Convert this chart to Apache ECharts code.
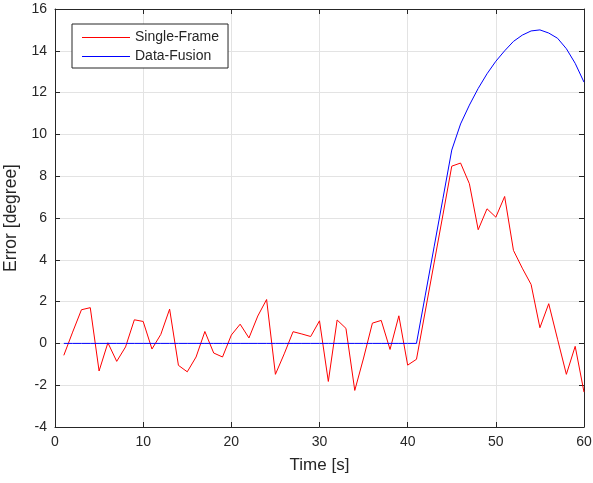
<!DOCTYPE html>
<html>
<head>
<meta charset="utf-8">
<script src="https://cdn.jsdelivr.net/npm/echarts@6/dist/echarts.min.js"></script>
<style>
  html, body { margin: 0; padding: 0; background: #fff; }
  #chart { width: 593px; height: 483px; }
</style>
</head>
<body>
<div id="chart"></div>
<script>
// Time stamps in seconds
const times = [
  1, 2, 3, 4, 5, 6, 7, 8, 9, 10,
  11, 12, 13, 14, 15, 16, 17, 18, 19, 20,
  21, 22, 23, 24, 25, 26, 27, 28, 29, 30,
  31, 32, 33, 34, 35, 36, 37, 38, 39, 40,
  41, 42, 43, 44, 45, 46, 47, 48, 49, 50,
  51, 52, 53, 54, 55, 56, 57, 58, 59, 60
];

// Error of the single-frame estimate [degree]
const singleFrame = [
  -0.57, 0.54, 1.61, 1.71, -1.32, 0.03, -0.86, -0.17, 1.13, 1.05,
  -0.27, 0.43, 1.64, -1.05, -1.36, -0.65, 0.57, -0.46, -0.65, 0.40,
  0.92, 0.26, 1.31, 2.10, -1.48, -0.50, 0.56, 0.45, 0.33, 1.08,
  -1.82, 1.12, 0.72, -2.25, -0.70, 0.97, 1.10, -0.29, 1.32, -1.04,
  -0.76, 1.55, 3.85, 6.15, 8.48, 8.63, 7.64, 5.44, 6.44, 6.04,
  7.03, 4.45, 3.60, 2.82, 0.75, 1.90, 0.20, -1.48, -0.14, -2.33
];

// Error of the data-fusion estimate [degree]
const dataFusion = [
  0, 0, 0, 0, 0, 0, 0, 0, 0, 0,
  0, 0, 0, 0, 0, 0, 0, 0, 0, 0,
  0, 0, 0, 0, 0, 0, 0, 0, 0, 0,
  0, 0, 0, 0, 0, 0, 0, 0, 0, 0,
  0, 2.31, 4.62, 6.93, 9.25, 10.50, 11.40, 12.20, 12.90, 13.50,
  14.00, 14.45, 14.75, 14.95, 15.00, 14.85, 14.60, 14.10, 13.40, 12.50
];

const seriesNames = ['Single-Frame', 'Data-Fusion'];

const pairs = (vals) => times.map((t, i) => [t, vals[i]]);

const textColor = '#262626';
const axisColor = '#262626';
const gridColor = '#e3e3e3';
const font = 'Liberation Sans, Arial, sans-serif';

// Mirror axes that close the box (top and right), ticks only
const boxAxis = {
  axisLine: { show: true, onZero: false, lineStyle: { color: axisColor, width: 1 } },
  axisTick: { show: true, inside: true, length: 5, lineStyle: { color: axisColor } },
  splitLine: { show: false },
  axisLabel: { show: false }
};

const chart = echarts.init(document.getElementById('chart'));
chart.setOption({
  animation: false,
  backgroundColor: '#ffffff',
  grid: { left: 55, right: 9, top: 9, bottom: 56, containLabel: false, outerBoundsMode: 'none' },
  legend: {
    data: seriesNames,
    orient: 'vertical',
    left: 72,
    top: 24,
    padding: [6, 9, 4, 10],
    itemGap: 4,
    itemWidth: 48,
    itemHeight: 1,
    icon: 'rect',
    borderColor: '#262626',
    borderWidth: 1,
    backgroundColor: '#ffffff',
    textStyle: { color: textColor, fontSize: 14, fontFamily: font, lineHeight: 15 }
  },
  xAxis: [
    {
      type: 'value',
      min: 0, max: 60, interval: 10,
      name: 'Time [s]',
      nameLocation: 'middle',
      nameGap: 30,
      nameTextStyle: { color: textColor, fontSize: 17, fontFamily: font },
      axisLine: { show: true, onZero: false, lineStyle: { color: axisColor, width: 1 } },
      axisTick: { show: true, inside: true, length: 5, lineStyle: { color: axisColor } },
      axisLabel: { color: textColor, fontSize: 14, fontFamily: font, margin: 8 },
      splitLine: { show: true, lineStyle: { color: gridColor, width: 1 } }
    },
    Object.assign({ type: 'value', position: 'top', min: 0, max: 60, interval: 10 }, boxAxis)
  ],
  yAxis: [
    {
      type: 'value',
      min: -4, max: 16, interval: 2,
      name: 'Error [degree]',
      nameLocation: 'middle',
      nameGap: 32,
      nameTextStyle: { color: textColor, fontSize: 17.5, fontFamily: font },
      axisLine: { show: true, onZero: false, lineStyle: { color: axisColor, width: 1 } },
      axisTick: { show: true, inside: true, length: 5, lineStyle: { color: axisColor } },
      axisLabel: { color: textColor, fontSize: 14, fontFamily: font, margin: 8 },
      splitLine: { show: true, lineStyle: { color: gridColor, width: 1 } }
    },
    Object.assign({ type: 'value', position: 'right', min: -4, max: 16, interval: 2 }, boxAxis)
  ],
  series: [
    {
      name: seriesNames[0],
      type: 'line',
      data: pairs(singleFrame),
      symbol: 'none',
      lineStyle: { color: '#ff0000', width: 1 },
      itemStyle: { color: '#ff0000' },
      z: 3
    },
    {
      name: seriesNames[1],
      type: 'line',
      data: pairs(dataFusion),
      symbol: 'none',
      lineStyle: { color: '#0000ff', width: 1 },
      itemStyle: { color: '#0000ff' },
      z: 4
    }
  ]
});
</script>
</body>
</html>
